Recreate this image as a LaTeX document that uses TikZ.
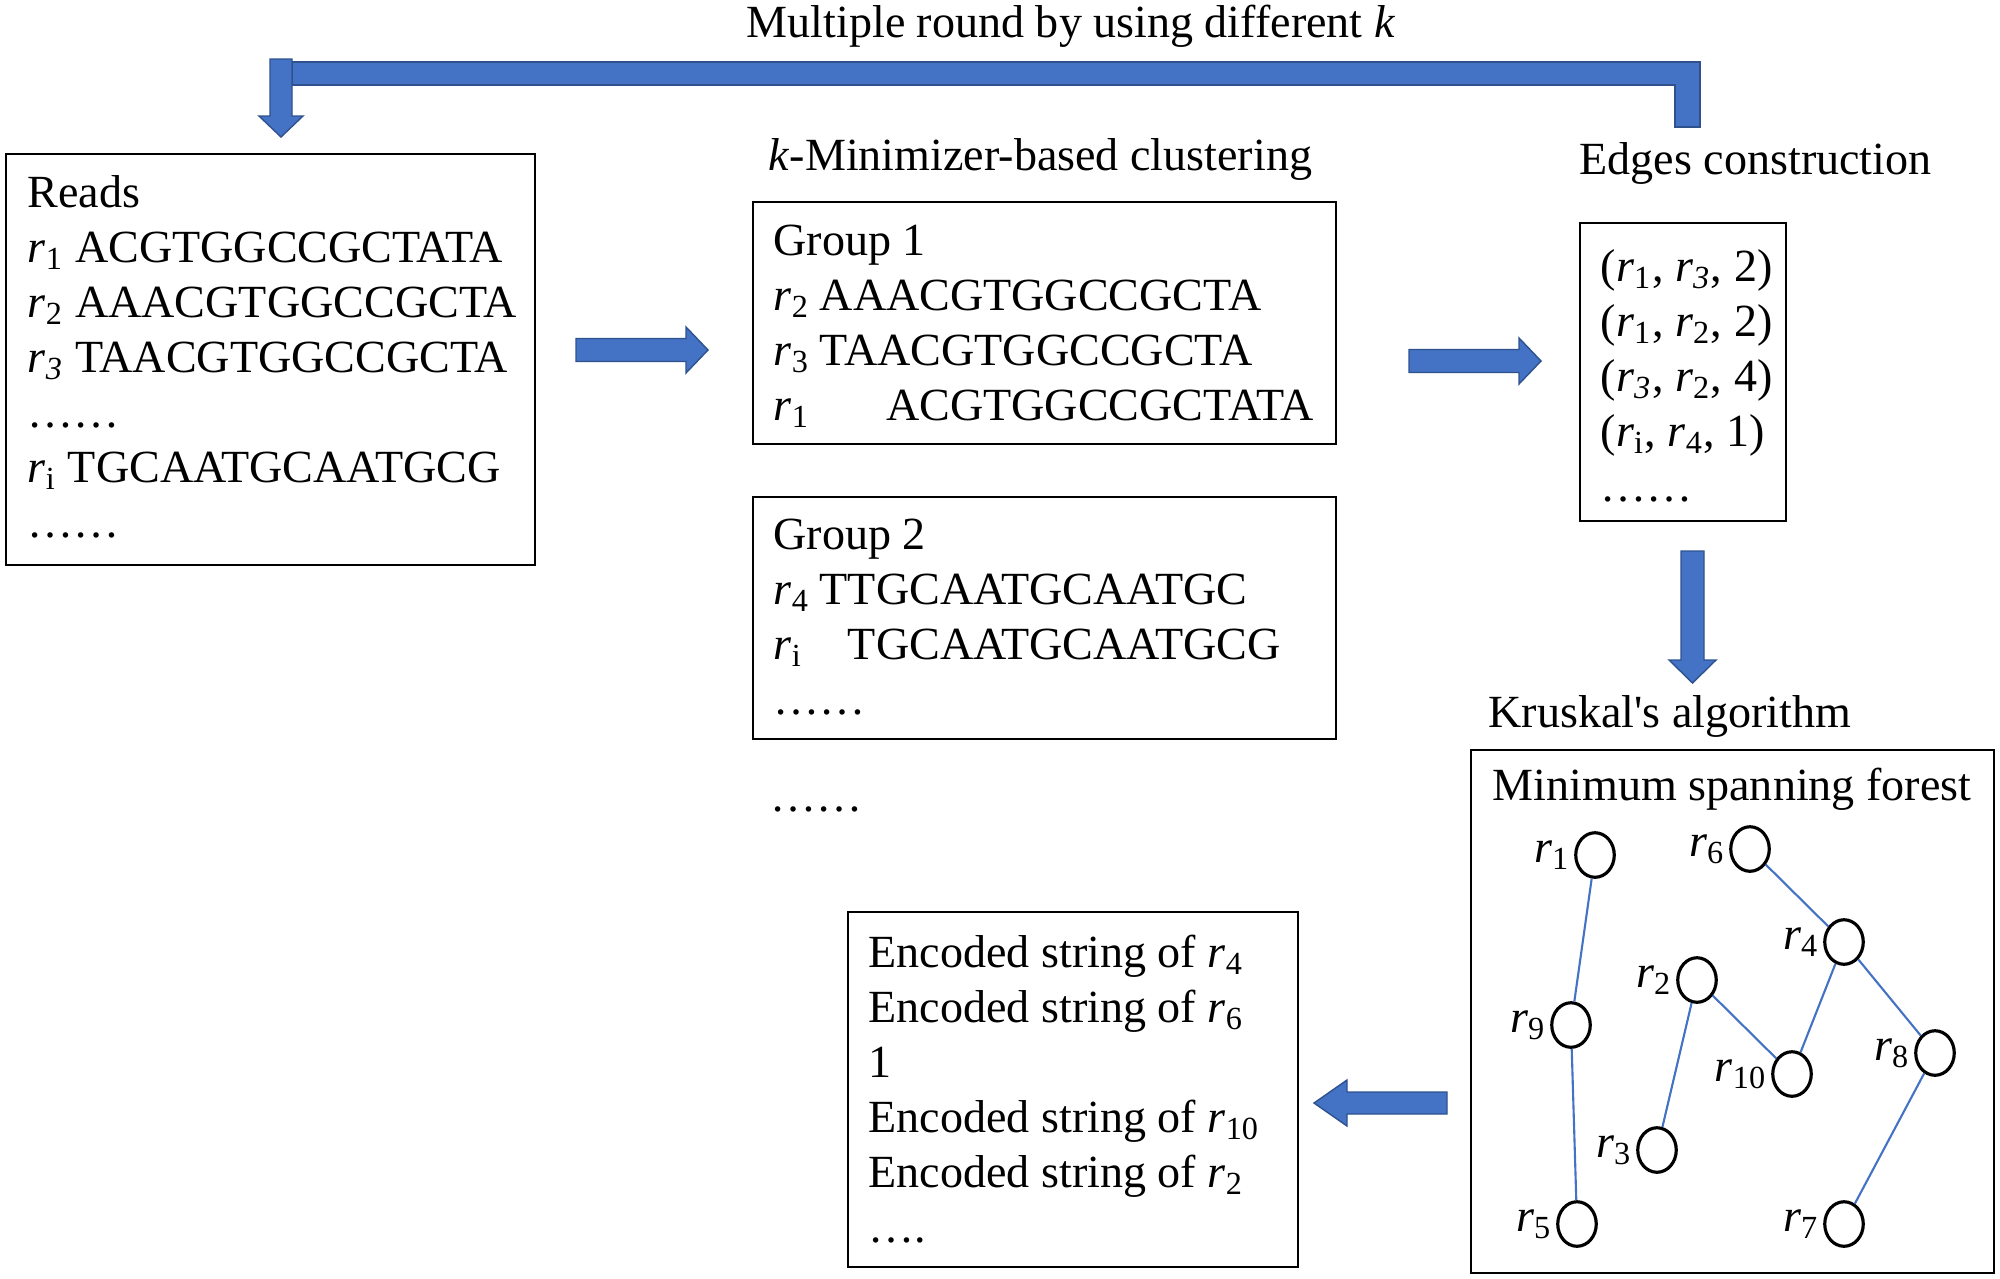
\documentclass[tikz,border=0pt]{standalone}
\usepackage{fontspec}
\setmainfont{Liberation Serif}[Ligatures=TeXOff]
\usetikzlibrary{fit,shapes.geometric}
\definecolor{arrblue}{HTML}{4472C4}
\definecolor{arrborder}{HTML}{2F528F}
\newcommand\rr[1]{\textit{r}\textsubscript{#1}}
\newcommand\rri[1]{\textit{r}\textsubscript{\textit{#1}}}
\newcommand\rl[1]{\makebox[0.75em][l]{#1}}
\begin{document}
\begin{tikzpicture}[x=0.01cm,y=-0.01cm,
  box/.style={draw=black, line width=0.6pt, inner sep=0pt},
  txt/.style={anchor=north west, inner sep=0pt, align=left, font=\fontsize{13.1pt}{15.65pt}\selectfont},
  ttl/.style={inner sep=0pt, font=\fontsize{13.1pt}{15.65pt}\selectfont},
  blk/.style={fill=arrblue, draw=arrborder, line width=0.4pt, line join=miter},
  vtx/.style={ellipse, draw=black, line width=0.9pt, minimum width=0.385cm, minimum height=0.445cm, inner sep=0pt, label distance=0.07cm},
  lbl/.style={font=\fontsize{13.1pt}{15.65pt}\selectfont, inner sep=1pt},
  edge/.style={draw=arrblue, line width=0.6pt}
]
\useasboundingbox (0,0) rectangle (2000,1278);
\fill[white] (0,0) rectangle (2000,1278);

% top bent arrow
\draw[blk] (292,62) -- (1700,62) -- (1700,127) -- (1675,127) -- (1675,85) -- (292,85) -- cycle;
\draw[blk] (270,59) -- (292,59) -- (292,116) -- (303,116) -- (281,137) -- (259,116) -- (270,116) -- cycle;
\node[ttl, anchor=base] (toplbl) at (1071,37) {Multiple round by using different \textit{k}};

% boxes
\node[box, fit={(6,154) (535,565)}] (reads) {};
\node[box, fit={(753,202) (1336,444)}] (g1) {};
\node[box, fit={(753,497) (1336,739)}] (g2) {};
\node[box, fit={(1580,223) (1786,521)}] (edges) {};
\node[box, fit={(1471,750) (1994,1273)}] (msf) {};
\node[box, fit={(848,912) (1298,1267)}] (enc) {};

% titles
\node[ttl, anchor=base west] (kminlbl) at (768,170) {\textit{k}-Minimizer-based clustering};
\node[ttl, anchor=base west] (edgelbl) at (1579,174) {Edges construction};
\node[ttl, anchor=base west] (krlbl) at (1488,727) {Kruskal's algorithm};
\node[ttl, anchor=base west] (msflbl) at (1492,800) {Minimum spanning forest};

% box texts
\node[txt] (readstxt) at (27,168.5) {\strut Reads\\ \rr{1} ACGTGGCCGCTATA\\ \rr{2} AAACGTGGCCGCTA\\ \rri{3} TAACGTGGCCGCTA\\ ……\\ \rr{i} TGCAATGCAATGCG\\ ……};
\node[txt] (g1txt) at (773,216.5) {\strut Group 1\\ \rl{\rr{2}} AAACGTGGCCGCTA\\ \rl{\rr{3}} TAACGTGGCCGCTA\\ \rl{\rr{1}} \hphantom{AA}ACGTGGCCGCTATA};
\node[txt] (g2txt) at (773,510.5) {\strut Group 2\\ \rl{\rr{4}} TTGCAATGCAATGC\\ \rl{\rr{i}} \hphantom{T}TGCAATGCAATGCG\\ ……};
\node[ttl, anchor=base west] (gdots) at (770,811) {……};
\node[txt] (edgetxt) at (1600,242.5) {\strut(\rr{1}, \rri{3}, 2)\\ (\rr{1}, \rr{2}, 2)\\ (\rri{3}, \rr{2}, 4)\\ (\rr{i}, \rr{4}, 1)\\ ……};
\node[txt] (enctxt) at (868,928.5) {\strut Encoded string of \rr{4}\\ Encoded string of \rr{6}\\ 1\\ Encoded string of \rr{10}\\ Encoded string of \rr{2}\\ ….};

% block arrows
\draw[blk] (576,338.5) -- (686,338.5) -- (686,327) -- (708,350) -- (686,373) -- (686,361.5) -- (576,361.5) -- cycle;
\draw[blk] (1409,349.5) -- (1519,349.5) -- (1519,338) -- (1541,361) -- (1519,384) -- (1519,372.5) -- (1409,372.5) -- cycle;
\draw[blk] (1681,551) -- (1704,551) -- (1704,660) -- (1716,660) -- (1692.5,683) -- (1669,660) -- (1681,660) -- cycle;
\draw[blk] (1447,1092) -- (1347,1092) -- (1347,1080) -- (1314,1103) -- (1347,1126) -- (1347,1114) -- (1447,1114) -- cycle;

% forest
\node[vtx, label={[lbl]left:\rr{1}}] (v1) at (1595,855) {};
\node[vtx, label={[lbl]left:\rr{6}}] (v6) at (1750,849) {};
\node[vtx, label={[lbl]left:\rr{4}}] (v4) at (1844,942) {};
\node[vtx, label={[lbl]left:\rr{2}}] (v2) at (1697,980) {};
\node[vtx, label={[lbl]left:\rr{9}}] (v9) at (1571,1025) {};
\node[vtx, label={[lbl]left:\rr{8}}] (v8) at (1935,1053) {};
\node[vtx, label={[lbl]left:\rr{10}}] (v10) at (1792,1074) {};
\node[vtx, label={[lbl]left:\rr{3}}] (v3) at (1657,1150) {};
\node[vtx, label={[lbl]left:\rr{5}}] (v5) at (1577,1224) {};
\node[vtx, label={[lbl]left:\rr{7}}] (v7) at (1844,1224) {};
\draw[edge] (v1) -- (v9);
\draw[edge] (v9) -- (v5);
\draw[edge] (v6) -- (v4);
\draw[edge] (v4) -- (v10);
\draw[edge] (v4) -- (v8);
\draw[edge] (v2) -- (v10);
\draw[edge] (v2) -- (v3);
\draw[edge] (v8) -- (v7);
\end{tikzpicture}
\end{document}
